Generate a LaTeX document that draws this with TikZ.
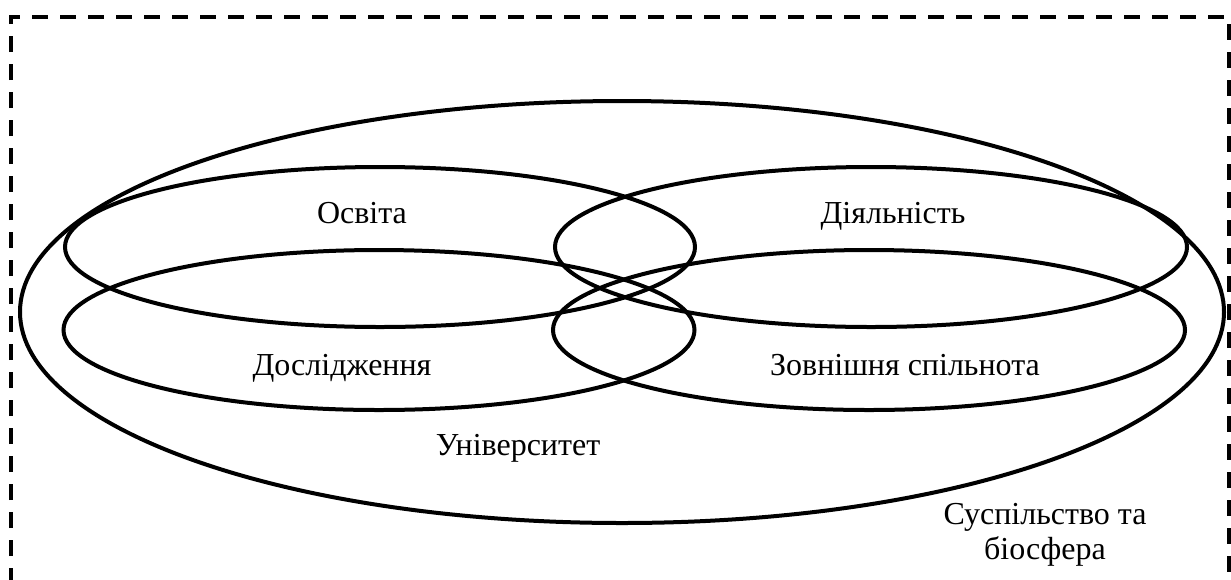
\documentclass[tikz,border=0pt]{standalone}
\usepackage{fontspec}
\setmainfont{Liberation Serif}
\usetikzlibrary{shapes.geometric}
\tikzset{
  zone/.style ={draw,ellipse,line width=2pt,inner sep=0pt},
  lbl/.style  ={align=center,font=\fontsize{16}{17.5}\selectfont,
                inner sep=0pt,anchor=base},
  frame/.style={draw,line width=2pt,dash pattern=on 8pt off 6pt},
}

\begin{document}
\begin{tikzpicture}[x=0.5pt,y=-0.5pt]
\useasboundingbox (0,0) rectangle (1231,579);

% society frame, open below the page
\draw[frame] (11,640) -- (11,17) -- (1229,17) -- (1229,640);

\node[zone,minimum width=602pt,minimum height=211pt] (UNI) at (622,312) {};

\node[zone,minimum width=315pt,minimum height=80pt] (EDU) at (380,247) {};
\node[zone,minimum width=316pt,minimum height=80pt] (ACT) at (871,247) {};
\node[zone,minimum width=315.5pt,minimum height=80pt] (RES) at (379,330) {};
\node[zone,minimum width=316pt,minimum height=80pt] (COM) at (869,330) {};

\node[lbl] (tEDU) at (362,223) {Освіта};
\node[lbl] (tACT) at (893,223) {Діяльність};
\node[lbl] (tRES) at (342,375) {Дослідження};
\node[lbl] (tCOM) at (905,375) {Зовнішня спільнота};
\node[lbl] (tUNI) at (518,455) {Університет};
\node[lbl] (tSOC) at (1045,559) {Суспільство та\\біосфера};
\end{tikzpicture}
\end{document}
